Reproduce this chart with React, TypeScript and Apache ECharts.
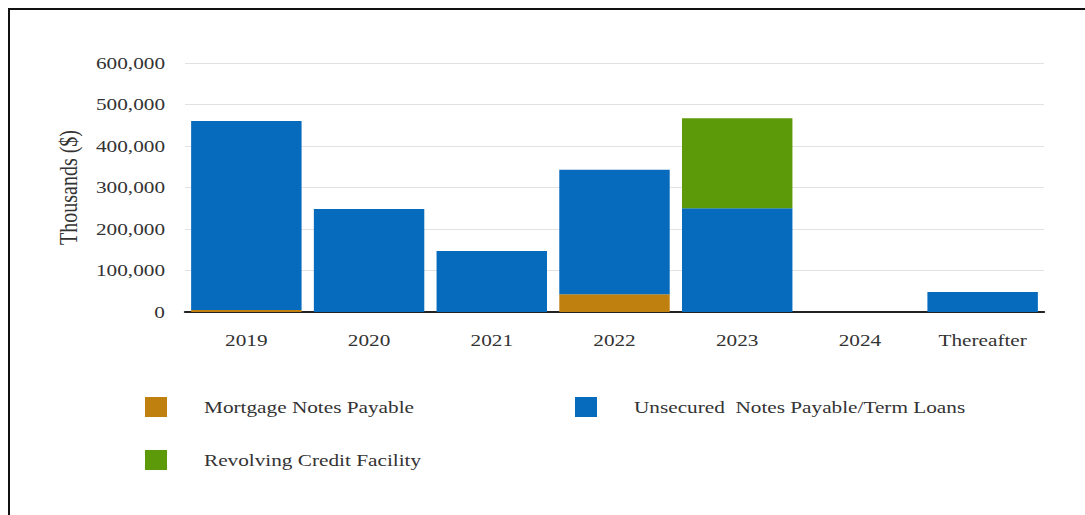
import React, { useEffect, useRef } from "react";
import * as echarts from "echarts";

const categories = ["2019", "2020", "2021", "2022", "2023", "2024", "Thereafter"];
const mortgageNotes = [5000, 0, 0, 43000, 0, 0, 0];
const unsecuredNotes = [455000, 248000, 147000, 300000, 250000, 0, 48000];
const revolvingCredit = [0, 0, 0, 0, 217000, 0, 0];

const seriesNames = [
  "Mortgage Notes Payable",
  "Unsecured  Notes Payable/Term Loans",
  "Revolving Credit Facility",
];

const FONT = "Liberation Serif";
const TEXT_COLOR = "#333333";

// The chart is laid out in a narrower box and widened with a horizontal scale,
// which gives the wide-set serif lettering.
const WIDTH = 1085;
const HEIGHT = 515;
const STRETCH = 1.25;
const sx = (x: number) => x / STRETCH;

export default function App() {
  const ref = useRef<HTMLDivElement>(null);

  useEffect(() => {
    if (!ref.current) return;
    const chart = echarts.init(ref.current, undefined, { renderer: "svg" });

    const legendCommon = {
      orient: "horizontal" as const,
      padding: 0,
      itemWidth: sx(22),
      itemHeight: 20,
      icon: "rect",
      textStyle: {
        fontFamily: FONT,
        fontSize: 17,
        color: TEXT_COLOR,
        padding: [0, 0, 0, sx(204) - sx(167) - 5],
      },
      selectedMode: false,
    };

    chart.setOption({
      animation: false,
      backgroundColor: "#ffffff",
      textStyle: { fontFamily: FONT },
      grid: {
        left: sx(185),
        right: sx(WIDTH - 1044),
        top: 63,
        bottom: 203,
        containLabel: false,
      },
      legend: [
        { ...legendCommon, left: sx(145), top: 397, data: [seriesNames[0]] },
        { ...legendCommon, left: sx(575), top: 397, data: [seriesNames[1]] },
        { ...legendCommon, left: sx(145), top: 450, data: [seriesNames[2]] },
      ],
      xAxis: {
        type: "category",
        data: categories,
        axisTick: { show: false },
        axisLine: { show: true, lineStyle: { color: "#222222", width: 2 } },
        axisLabel: {
          fontFamily: FONT,
          fontSize: 17,
          color: TEXT_COLOR,
          margin: 20,
        },
      },
      yAxis: {
        type: "value",
        min: 0,
        max: 600000,
        interval: 100000,
        name: "Thousands ($)",
        nameLocation: "middle",
        nameGap: sx(185) - sx(81),
        nameRotate: 90,
        nameTextStyle: { fontFamily: FONT, fontSize: 20, color: TEXT_COLOR },
        axisLine: { show: false },
        axisTick: { show: false },
        splitLine: { lineStyle: { color: "#e2e2e2", width: 1 } },
        axisLabel: {
          fontFamily: FONT,
          fontSize: 17,
          color: TEXT_COLOR,
          margin: sx(20),
          formatter: (v: number) => v.toLocaleString("en-US"),
        },
      },
      series: [
        {
          name: seriesNames[0],
          type: "bar",
          stack: "total",
          data: mortgageNotes,
          barCategoryGap: "10%",
          itemStyle: { color: "#bf8010" },
        },
        {
          name: seriesNames[1],
          type: "bar",
          stack: "total",
          data: unsecuredNotes,
          barCategoryGap: "10%",
          itemStyle: { color: "#066abd" },
        },
        {
          name: seriesNames[2],
          type: "bar",
          stack: "total",
          data: revolvingCredit,
          barCategoryGap: "10%",
          itemStyle: { color: "#5c9a09" },
        },
      ],
      graphic: [
        {
          type: "line",
          shape: { x1: sx(8), y1: 9, x2: sx(WIDTH), y2: 9 },
          style: { stroke: "#111111", lineWidth: 2 },
          silent: true,
        },
        {
          type: "line",
          shape: { x1: sx(9), y1: 8, x2: sx(9), y2: HEIGHT },
          style: { stroke: "#111111", lineWidth: sx(2) },
          silent: true,
        },
      ],
    });

    return () => chart.dispose();
  }, []);

  return (
    <div
      style={{
        position: "fixed",
        left: 0,
        top: 0,
        width: WIDTH,
        height: HEIGHT,
        overflow: "hidden",
        background: "#ffffff",
      }}
    >
      <div
        ref={ref}
        style={{
          width: sx(WIDTH),
          height: HEIGHT,
          transform: `scaleX(${STRETCH})`,
          transformOrigin: "0 0",
        }}
      />
    </div>
  );
}
